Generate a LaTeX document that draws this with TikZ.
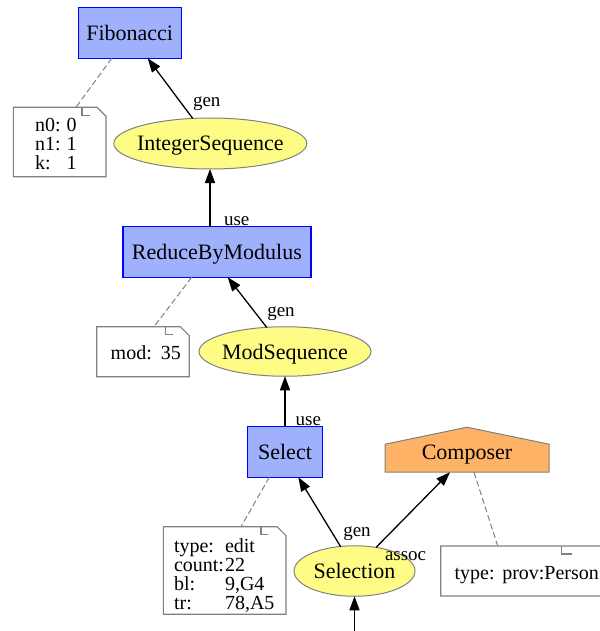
\documentclass[tikz,border=0pt]{standalone}
\usepackage{fontspec}
\setmainfont{Liberation Serif}
\usetikzlibrary{arrows.meta,shapes.geometric}
\pgfdeclarelayer{bg}
\pgfsetlayers{bg,main}
\definecolor{entblue}{RGB}{0,0,255}
\definecolor{entfill}{RGB}{159,177,252}
\definecolor{actfill}{RGB}{255,252,133}
\definecolor{agfill}{RGB}{254,178,102}
\definecolor{shapegray}{RGB}{128,128,128}
\newcommand{\entfnt}{\fontsize{22}{26}\selectfont}
\newcommand{\lblfnt}{\fontsize{19}{22}\selectfont}
\newcommand{\zw}[1]{\makebox[0pt]{#1}}
\newcommand{\notefold}[3]{%
  \draw[noteline] (#1.north west) -- ([xshift=-9pt]#1.north east) -- ([yshift=-9pt]#1.north east) -- (#1.south east) -- (#1.south west) -- cycle;
  \draw[noteline] ([xshift=-#2pt]#1.north east) -- ([xshift=-#2pt,yshift=-8pt]#1.north east) -- ([xshift=-#3pt,yshift=-8pt]#1.north east);}
\begin{document}
\begin{tikzpicture}[x=1pt,y=-1pt,
  every node/.style={inner sep=0pt, outer sep=0pt},
  nodetext/.style={font=\entfnt, text height=15pt, text depth=0pt},
  entity/.style={nodetext, rectangle, draw=entblue, fill=entfill, line width=1.2pt},
  activity/.style={nodetext, ellipse, draw=shapegray, fill=actfill, line width=1pt},
  notebox/.style={rectangle, draw=none},
  notetext/.style={anchor=base west},
  lbl/.style={font=\lblfnt, anchor=base west},
  rel/.style={draw=black, line width=1.3pt, -{Triangle[length=14pt,width=10pt]}},
  attach/.style={draw=shapegray, line width=1pt, dash pattern=on 6pt off 3pt},
  noteline/.style={draw=shapegray, line width=1.2pt},
]
\useasboundingbox (0,0) rectangle (599,631);

% nodes
\node[entity, minimum width=103pt, minimum height=51pt] (fib) at (129.7,32.8) {Fibonacci};
\node[activity, minimum width=193pt, minimum height=51pt] (intseq) at (210.3,143.5) {\zw{IntegerSequence}};
\node[entity, minimum width=188pt, minimum height=50.5pt] (rbm) at (216.9,252) {ReduceByModulus};
\node[activity, minimum width=172pt, minimum height=49.5pt] (modseq) at (285,351.5) {\zw{ModSequence}};
\node[entity, minimum width=75.4pt, minimum height=50.5pt] (select) at (285,452) {Select};
\node[activity, minimum width=121pt, minimum height=50.5pt] (selection) at (354.5,571) {\zw{Selection}};
\node[nodetext, minimum width=164pt, minimum height=40pt] (comp) at (467,452.2) {Composer};
\begin{pgfonlayer}{bg}
\draw[draw=shapegray, fill=agfill, line width=1pt] (comp.south west) -- ([yshift=-12pt]comp.north west) -- ([yshift=5pt]comp.north) -- ([yshift=-12pt]comp.north east) -- (comp.south east) -- cycle;
\end{pgfonlayer}

% notes
\node[notebox, minimum width=92.7pt, minimum height=69.4pt] (note1) at (59.7,142) {};
\notefold{note1}{24}{16}
\node[notetext] (note1t) at ([xshift=21.7pt,yshift=-24.2pt]note1.north west)
  {\fontsize{20}{18.6}\selectfont\begin{tabular}[t]{@{}l@{\hspace{6pt}}l@{}}n0: & 0\\ n1: & 1\\ k: & 1\end{tabular}};

\node[notebox, minimum width=92.6pt, minimum height=50pt] (note2) at (143,351.7) {};
\notefold{note2}{24}{16}
\node[notetext] (note2t) at ([xshift=14pt,yshift=-32.6pt]note2.north west)
  {\fontsize{20}{18}\selectfont\begin{tabular}[t]{@{}l@{\hspace{9pt}}l@{}}mod: & 35\end{tabular}};

\node[notebox, minimum width=122.7pt, minimum height=87.6pt] (note3) at (224.7,570.5) {};
\notefold{note3}{25}{18}
\node[notetext] (note3t) at ([xshift=10.7pt,yshift=-26pt]note3.north west)
  {\fontsize{20}{17.8}\selectfont\begin{tabular}[t]{@{}l@{\hspace{1pt}}l@{}}type: & edit\\ count: & 22\\ bl: & 9,G4\\ tr: & 78,A5\end{tabular}};

\node[notebox, minimum width=169.3pt, minimum height=50pt] (note4) at (525.3,571) {};
\notefold{note4}{48.3}{38.3}
\node[notetext] (note4t) at ([xshift=14pt,yshift=-33.3pt]note4.north west)
  {\fontsize{20}{18}\selectfont\begin{tabular}[t]{@{}l@{\hspace{7.6pt}}l@{}}type: & prov:Person\end{tabular}};

% attachments
\draw[attach] ([xshift=-18pt]fib.south) -- ([xshift=16.3pt]note1.north);
\draw[attach] ([xshift=-25.2pt]rbm.south) -- ([xshift=11pt]note2.north);
\draw[attach] ([xshift=-15.7pt]select.south) -- ([xshift=16.3pt]note3.north);
\draw[attach] ([xshift=7pt]comp.south) -- ([xshift=-27.6pt]note4.north);

% relations
\draw[rel] ([xshift=-17.6pt,yshift=-0.4pt]intseq.north) -- node[lbl, at start, xshift=0.3pt, yshift=12pt] (l1) {gen} ([xshift=18pt]fib.south);
\draw[rel] ([xshift=-6.9pt]rbm.north) -- node[lbl, at start, xshift=14pt, yshift=1.7pt] (l2) {use} ([xshift=-0.3pt]intseq.south);
\draw[rel] ([xshift=-18.3pt,yshift=-0.6pt]modseq.north) -- node[lbl, at start, xshift=0.6pt, yshift=11pt] (l3) {gen} ([xshift=10.8pt]rbm.south);
\draw[rel] (select.north) -- node[lbl, at start, xshift=10.7pt, yshift=1.7pt] (l4) {use} (modseq.south);
\draw[rel] ([xshift=-13.8pt,yshift=-1pt]selection.north) -- node[lbl, at start, xshift=2.6pt, yshift=10.3pt] (l5) {gen} ([xshift=13.3pt]select.south);
\draw[rel] ([xshift=21.5pt,yshift=-1.7pt]selection.north) -- node[lbl, at start, xshift=9pt, yshift=-13pt] (l6) {assoc} ([xshift=-17pt]comp.south);
\coordinate (bot) at (354.5,645);
\draw[rel] (bot) -- (selection.south);
\end{tikzpicture}
\end{document}
